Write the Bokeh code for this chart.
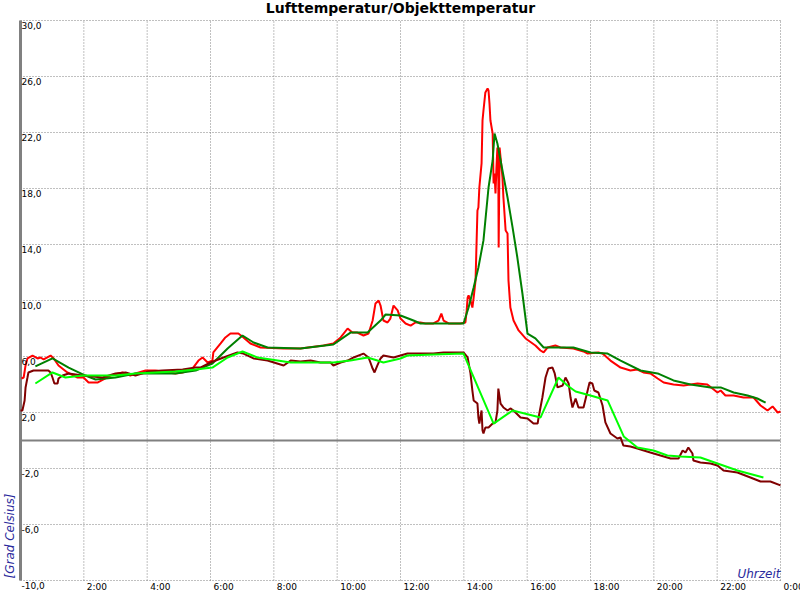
import math
from bokeh.plotting import figure
from bokeh.models import Range1d, LabelSet, ColumnDataSource
from bokeh.core.properties import value
from bokeh.embed import file_html
from bokeh.resources import INLINE

# ---- data (hours of day, degrees Celsius) ----
air_hours = [0.03, 0.10, 0.16, 0.22, 0.38, 0.54, 0.63, 0.73, 0.95, 1.05, 1.20, 1.48, 1.80, 1.99, 2.15, 2.43, 2.84, 3.22, 3.47, 3.63, 3.95, 4.26, 4.67, 4.89, 5.12, 5.43, 5.62, 5.75, 5.91, 6.06, 6.09, 6.32, 6.47, 6.63, 6.88, 7.04, 7.26, 7.58, 8.31, 8.84, 9.57, 9.88, 10.11, 10.33, 10.48, 10.64, 10.83, 10.99, 11.12, 11.21, 11.31, 11.37, 11.46, 11.59, 11.68, 11.78, 11.91, 12.00, 12.16, 12.32, 12.47, 12.63, 12.79, 13.04, 13.20, 13.29, 13.36, 13.52, 13.89, 14.05, 14.09, 14.12, 14.15, 14.21, 14.27, 14.31, 14.37, 14.43, 14.46, 14.49, 14.56, 14.59, 14.62, 14.68, 14.75, 14.78, 14.81, 14.84, 14.91, 14.94, 14.97, 15.00, 15.03, 15.06, 15.09, 15.10, 15.13, 15.16, 15.19, 15.22, 15.25, 15.32, 15.38, 15.41, 15.47, 15.57, 15.73, 15.95, 16.26, 16.42, 16.52, 16.64, 16.89, 17.05, 17.46, 17.78, 17.91, 18.25, 18.38, 18.63, 18.95, 19.26, 19.48, 19.67, 19.89, 20.12, 20.31, 20.62, 20.94, 21.38, 21.69, 21.85, 22.01, 22.11, 22.26, 22.52, 22.83, 23.15, 23.37, 23.59, 23.75, 23.91, 24.00]
air_temp = [4.43, 4.50, 5.36, 5.86, 6.07, 5.86, 5.93, 5.79, 6.07, 5.86, 5.36, 4.86, 4.50, 4.50, 4.14, 4.14, 4.64, 4.86, 4.64, 4.79, 5.00, 5.00, 4.86, 4.79, 4.86, 5.14, 5.71, 5.93, 5.57, 5.71, 6.29, 6.93, 7.36, 7.64, 7.64, 7.36, 6.93, 6.64, 6.57, 6.57, 6.79, 6.93, 7.36, 8.00, 7.71, 7.71, 7.50, 7.64, 8.57, 9.79, 10.00, 9.64, 8.57, 8.43, 8.71, 9.64, 9.29, 8.71, 8.36, 8.21, 8.43, 8.43, 8.36, 8.36, 8.57, 9.07, 8.57, 8.36, 8.36, 8.43, 9.29, 10.21, 10.36, 10.00, 9.50, 10.21, 11.43, 16.43, 16.64, 18.07, 19.79, 22.86, 23.57, 24.86, 25.14, 25.00, 24.07, 22.86, 21.93, 18.36, 19.07, 17.64, 19.50, 20.93, 18.57, 13.79, 20.93, 20.21, 19.50, 18.79, 17.36, 15.00, 14.79, 11.43, 9.50, 8.57, 7.86, 7.29, 6.79, 6.43, 6.29, 6.64, 6.79, 6.64, 6.57, 6.36, 6.21, 6.29, 6.21, 5.71, 5.21, 5.00, 5.07, 4.86, 4.79, 4.43, 4.14, 4.00, 3.93, 4.07, 4.00, 3.71, 3.43, 3.57, 3.21, 3.21, 3.07, 3.07, 2.50, 2.14, 2.43, 2.00, 2.07]

air_avg_hours = [0.47, 1.01, 1.52, 2.05, 2.37, 3.00, 3.63, 4.26, 4.89, 5.53, 6.06, 6.54, 7.01, 7.36, 7.80, 8.84, 9.88, 10.42, 10.96, 11.37, 11.53, 12.00, 12.41, 12.63, 13.04, 13.99, 14.15, 14.31, 14.46, 14.62, 14.78, 14.91, 14.97, 15.06, 15.22, 15.38, 15.54, 15.69, 15.85, 16.01, 16.26, 16.52, 17.46, 18.00, 18.54, 18.95, 19.58, 20.12, 20.62, 21.16, 21.79, 22.11, 22.52, 22.96, 23.27, 23.53]
air_avg_temp = [5.29, 5.86, 5.21, 4.64, 4.36, 4.50, 4.79, 4.79, 4.79, 5.00, 5.50, 6.57, 7.50, 7.00, 6.64, 6.57, 6.86, 7.71, 7.71, 8.57, 9.00, 8.93, 8.57, 8.36, 8.36, 8.36, 9.50, 10.93, 12.36, 14.29, 18.07, 20.00, 21.93, 21.21, 19.29, 17.36, 15.21, 13.07, 10.50, 7.64, 7.29, 6.64, 6.64, 6.29, 6.21, 5.71, 5.00, 4.79, 4.29, 4.00, 3.79, 3.79, 3.43, 3.21, 3.00, 2.71]

obj_hours = [0.00, 0.06, 0.13, 0.16, 0.22, 0.25, 0.41, 0.88, 0.95, 1.01, 1.07, 1.17, 1.20, 1.33, 1.52, 1.96, 2.59, 3.00, 3.32, 3.63, 4.04, 4.48, 5.12, 5.53, 5.68, 6.00, 6.41, 6.85, 7.04, 7.36, 7.80, 8.31, 8.53, 8.84, 9.16, 9.47, 9.79, 9.88, 10.11, 10.33, 10.52, 10.83, 10.99, 11.05, 11.12, 11.18, 11.27, 11.37, 11.46, 11.78, 12.00, 12.22, 12.54, 13.04, 13.36, 13.99, 14.12, 14.21, 14.27, 14.31, 14.43, 14.46, 14.49, 14.56, 14.59, 14.62, 14.68, 14.78, 14.91, 15.00, 15.06, 15.09, 15.16, 15.25, 15.38, 15.47, 15.57, 15.79, 16.01, 16.20, 16.33, 16.36, 16.48, 16.58, 16.67, 16.80, 16.87, 16.96, 17.12, 17.21, 17.31, 17.37, 17.43, 17.53, 17.62, 17.78, 17.91, 17.97, 18.06, 18.12, 18.25, 18.38, 18.47, 18.63, 18.85, 18.95, 19.04, 19.26, 19.48, 19.89, 20.21, 20.53, 20.78, 20.91, 21.00, 21.09, 21.22, 21.25, 21.47, 21.79, 22.01, 22.20, 22.64, 23.05, 23.37, 23.68, 24.00]
obj_temp = [2.14, 2.14, 2.86, 3.79, 4.50, 4.86, 5.00, 5.00, 4.86, 4.50, 4.07, 4.07, 4.43, 4.64, 4.79, 4.64, 4.50, 4.79, 4.86, 4.64, 4.93, 5.00, 5.07, 5.21, 5.21, 5.57, 5.93, 6.29, 6.21, 5.86, 5.71, 5.36, 5.71, 5.64, 5.71, 5.57, 5.57, 5.36, 5.57, 5.71, 5.93, 6.21, 5.93, 5.57, 5.14, 4.86, 5.36, 5.86, 6.07, 5.93, 6.07, 6.21, 6.21, 6.21, 6.29, 6.29, 5.93, 4.79, 3.57, 2.86, 2.64, 1.64, 1.21, 2.14, 0.71, 0.50, 0.93, 0.93, 1.21, 1.29, 2.14, 3.71, 2.64, 2.36, 2.14, 2.29, 2.14, 1.64, 1.57, 1.21, 1.21, 1.64, 3.07, 4.50, 5.14, 5.21, 4.79, 3.79, 3.93, 4.50, 4.07, 3.07, 2.36, 3.00, 2.36, 2.36, 3.57, 4.14, 4.07, 3.57, 3.43, 2.50, 1.29, 0.50, 0.14, 0.21, -0.36, -0.43, -0.57, -0.86, -1.07, -1.29, -1.29, -0.71, -0.86, -0.50, -0.93, -1.43, -1.57, -1.64, -1.79, -2.14, -2.29, -2.64, -2.93, -2.93, -3.21]

obj_avg_hours = [0.47, 1.01, 1.42, 1.96, 2.59, 3.00, 3.63, 4.26, 4.89, 5.53, 6.06, 6.54, 7.01, 7.48, 8.12, 8.53, 9.88, 10.42, 10.96, 11.27, 11.46, 12.00, 12.22, 13.04, 13.99, 14.94, 15.54, 16.42, 16.99, 17.27, 17.53, 18.00, 18.54, 19.05, 19.48, 19.99, 20.43, 20.84, 21.47, 22.01, 22.64, 23.46]
obj_avg_temp = [4.07, 4.86, 4.50, 4.64, 4.64, 4.64, 4.79, 4.86, 4.93, 5.07, 5.21, 5.93, 6.36, 5.93, 5.71, 5.57, 5.57, 5.71, 5.93, 5.71, 5.57, 5.86, 6.07, 6.14, 6.21, 1.21, 2.14, 1.64, 4.50, 3.93, 3.50, 3.21, 2.86, 0.29, -0.50, -0.71, -1.07, -1.14, -1.21, -1.64, -2.14, -2.64]

x_ticks = [2, 4, 6, 8, 10, 12, 14, 16, 18, 20, 22, 24]
x_tick_labels = ["2:00", "4:00", "6:00", "8:00", "10:00", "12:00", "14:00", "16:00", "18:00", "20:00", "22:00", "0:00"]
y_ticks = [30, 26, 22, 18, 14, 10, 6, 2, -2, -6, -10]
y_tick_labels = ["30,0", "26,0", "22,0", "18,0", "14,0", "10,0", "6,0", "2,0", "-2,0", "-6,0", "-10,0"]
x_min, x_max = 0, 24
y_min, y_max = -10, 30

TITLE = "Lufttemperatur/Objekttemperatur"
Y_TITLE = "[Grad Celsius]"
X_TITLE = "Uhrzeit"
FONT = "DejaVu Sans"
GRID = "#808080"
AXIS_LBL = "#2a2a9c"

# plot area spans 760 x 560 px inside an 800 x 600 canvas (20 px border all round)
px_h = 760 / (x_max - x_min)
px_t = 560 / (y_max - y_min)
p = figure(width=800, height=600,
           x_range=Range1d(x_min - 20 / px_h, x_max + 20 / px_h),
           y_range=Range1d(y_min - 20 / px_t, y_max + 20 / px_t),
           output_backend="svg", toolbar_location=None,
           min_border=0, x_axis_location=None, y_axis_location=None)
p.outline_line_color = None
p.xgrid.visible = False
p.ygrid.visible = False
p.background_fill_color = "white"
p.border_fill_color = "white"

# dotted grid
p.segment(x0=x_ticks, y0=[y_min] * len(x_ticks), x1=x_ticks, y1=[y_max] * len(x_ticks),
          line_color=GRID, line_width=1, line_dash="1 2")
p.segment(x0=[x_min] * len(y_ticks), y0=y_ticks, x1=[x_max] * len(y_ticks), y1=y_ticks,
          line_color=GRID, line_width=1, line_dash="1 2")
# y axis line and zero line
p.segment(x0=[x_min], y0=[y_min], x1=[x_min], y1=[y_max], line_color=GRID, line_width=3)
p.segment(x0=[x_min], y0=[0], x1=[x_max], y1=[0], line_color=GRID, line_width=2)

p.line(air_hours, air_temp, line_color="#ff0000", line_width=2)
p.line(air_avg_hours, air_avg_temp, line_color="#008000", line_width=2)
p.line(obj_hours, obj_temp, line_color="#800000", line_width=2)
p.line(obj_avg_hours, obj_avg_temp, line_color="#00ff00", line_width=2)

ysrc = ColumnDataSource(dict(x=[x_min] * len(y_ticks), y=y_ticks, t=y_tick_labels))
p.add_layout(LabelSet(x="x", y="y", text="t", source=ysrc, text_align="left", text_baseline="top",
                      x_offset=1, y_offset=-1, text_font=value(FONT), text_font_size=value("9px"),
                      text_color="black"))
xsrc = ColumnDataSource(dict(x=x_ticks, y=[y_min] * len(x_ticks), t=x_tick_labels))
p.add_layout(LabelSet(x="x", y="y", text="t", source=xsrc, text_align="left", text_baseline="top",
                      x_offset=3, y_offset=-1, text_font=value(FONT), text_font_size=value("9px"),
                      text_color="black"))

tsrc = ColumnDataSource(dict(x=[(x_min + x_max) / 2], y=[y_max], t=[TITLE]))
p.add_layout(LabelSet(x="x", y="y", text="t", source=tsrc, text_align="center",
                      text_baseline="alphabetic", y_offset=8, text_font=value(FONT),
                      text_font_size=value("14px"), text_font_style="bold", text_color="black"))
usrc = ColumnDataSource(dict(x=[x_max], y=[y_min], t=[X_TITLE]))
p.add_layout(LabelSet(x="x", y="y", text="t", source=usrc, text_align="right",
                      text_baseline="alphabetic", y_offset=3, text_font=value(FONT),
                      text_font_size=value("12px"), text_font_style="italic", text_color=AXIS_LBL))
gsrc = ColumnDataSource(dict(x=[x_min], y=[y_min], t=[Y_TITLE]))
p.add_layout(LabelSet(x="x", y="y", text="t", source=gsrc, angle=math.pi / 2, text_align="left",
                      text_baseline="middle", x_offset=-11, y_offset=2, text_font=value(FONT),
                      text_font_size=value("12px"), text_font_style="italic", text_color=AXIS_LBL))

open("out.html", "w").write(file_html(p, INLINE))
